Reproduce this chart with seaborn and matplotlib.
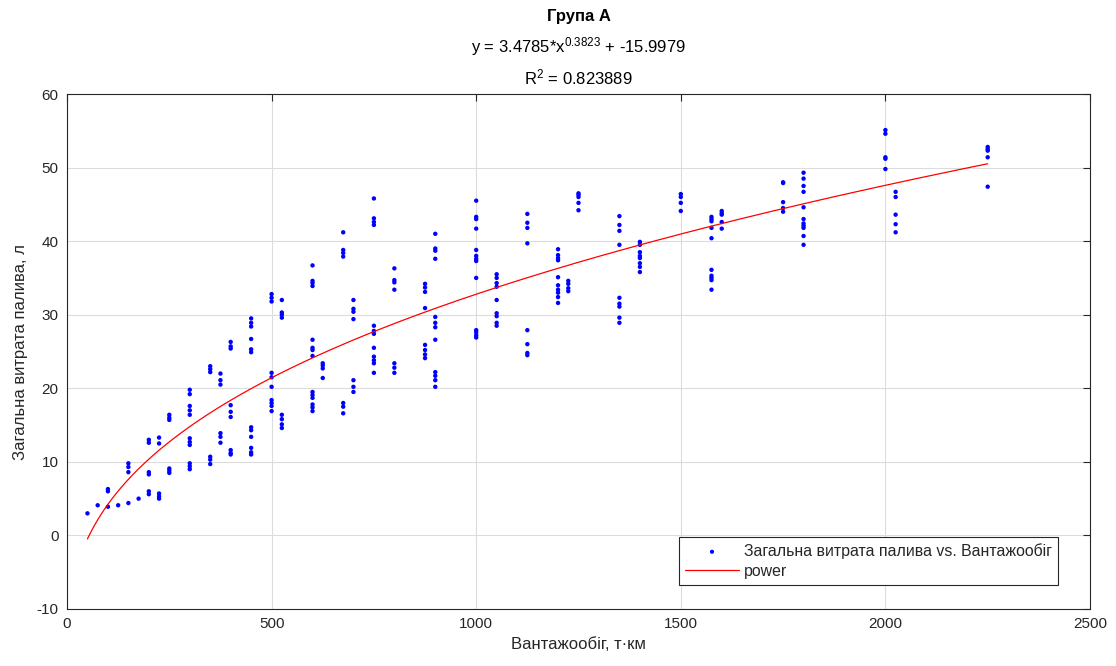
import numpy as np
import pandas as pd
import matplotlib
matplotlib.use("Agg")
import matplotlib.pyplot as plt
import seaborn as sns

# ---- data ----
turnover_levels = [50, 75, 100, 125, 150, 175, 200, 225, 250, 300, 350, 375, 400, 450, 500,
                   525, 600, 625, 675, 700, 750, 800, 875, 900, 1000, 1050, 1125, 1200, 1225,
                   1250, 1350, 1400, 1500, 1575, 1600, 1750, 1800, 2000, 2025, 2250]
fuel_by_level = [
    [3.0],
    [4.1],
    [6.3, 6.0, 3.9],
    [4.1],
    [9.8, 9.3, 8.6, 4.4],
    [5.0],
    [13.0, 12.6, 8.6, 8.3, 6.0, 5.6],
    [13.3, 12.5, 5.7, 5.3, 5.0],
    [16.4, 16.0, 15.7, 9.1, 8.8, 8.5],
    [19.8, 19.2, 17.6, 17.0, 16.4, 13.2, 12.7, 12.3, 9.8, 9.4, 9.0],
    [23.0, 22.6, 22.2, 10.7, 10.3, 9.7],
    [22.0, 21.1, 20.5, 13.9, 13.4, 12.6],
    [26.3, 25.7, 25.4, 17.7, 16.8, 16.1, 11.6, 11.2, 11.0],
    [29.5, 28.9, 28.4, 26.7, 25.3, 24.9, 14.7, 14.3, 13.4, 11.9, 11.3, 11.0],
    [32.8, 32.3, 31.8, 22.1, 21.5, 20.2, 18.4, 18.0, 17.6, 16.9],
    [32.0, 30.3, 30.0, 29.6, 16.4, 15.8, 15.1, 14.6],
    [36.7, 34.6, 34.3, 33.9, 26.6, 25.5, 25.2, 24.4, 19.5, 19.1, 18.7, 17.8, 17.4, 16.9],
    [23.4, 23.1, 22.7, 21.4],
    [41.2, 38.8, 38.4, 37.9, 18.0, 17.5, 16.6],
    [32.0, 30.8, 30.4, 29.4, 21.1, 20.2, 19.5],
    [45.8, 43.1, 42.6, 42.2, 28.5, 27.8, 27.4, 25.5, 24.3, 23.8, 23.4, 22.1],
    [36.3, 34.7, 34.4, 33.4, 23.4, 22.8, 22.1],
    [34.2, 33.7, 33.1, 30.9, 25.9, 25.2, 24.6, 24.1],
    [41.0, 39.0, 38.7, 37.6, 29.7, 28.9, 28.3, 26.6, 22.2, 21.7, 21.1, 20.2],
    [45.5, 43.3, 43.0, 41.7, 38.8, 38.0, 37.6, 37.3, 35.0, 27.9, 27.6, 27.2, 26.9],
    [35.5, 35.0, 34.3, 33.8, 32.0, 30.2, 29.8, 28.9, 28.5],
    [43.7, 42.5, 41.8, 39.7, 27.9, 26.0, 24.8, 24.5],
    [38.9, 38.1, 37.7, 37.4, 35.1, 34.0, 33.4, 33.0, 32.4, 31.6],
    [34.6, 34.2, 33.6, 33.2],
    [46.5, 46.3, 46.0, 45.2, 44.2],
    [43.4, 42.2, 41.4, 39.5, 32.3, 31.5, 31.1, 29.6, 28.9],
    [39.9, 39.5, 38.5, 38.0, 37.7, 37.0, 36.5, 35.8],
    [46.4, 46.0, 45.2, 44.1],
    [43.3, 43.0, 42.7, 41.8, 40.4, 36.1, 35.3, 35.0, 34.7, 33.4],
    [44.1, 43.8, 43.6, 42.6, 41.7],
    [48.0, 47.9, 45.3, 44.5, 44.0],
    [49.3, 48.5, 47.5, 46.7, 44.6, 43.0, 42.4, 42.1, 41.8, 40.7, 39.5],
    [55.1, 54.6, 51.4, 51.2, 49.8],
    [46.7, 46.0, 43.6, 42.3, 41.2],
    [52.8, 52.5, 52.3, 51.4, 47.4],
]
fit_a, fit_b, fit_c = 3.4785, 0.3823, -15.9979
r_squared = 0.823889
x_ticks = [0, 500, 1000, 1500, 2000, 2500]
y_ticks = [-10, 0, 10, 20, 30, 40, 50, 60]

title_text = "Група А"
x_label = "Вантажообіг, т·км"
y_label = "Загальна витрата палива, л"
scatter_label = "Загальна витрата палива vs. Вантажообіг"
fit_label = "power"

# ---- build frames ----
xs, ys = [], []
for lv, vals in zip(turnover_levels, fuel_by_level):
    xs.extend([lv] * len(vals))
    ys.extend(vals)
pts = pd.DataFrame({"x": xs, "y": ys})

fx = np.linspace(min(turnover_levels), max(turnover_levels), 400)
fit = pd.DataFrame({"x": fx, "y": fit_a * fx ** fit_b + fit_c})

# ---- style ----
sns.set_style("white")
plt.rcParams["font.family"] = ["Liberation Sans", "DejaVu Sans"]
plt.rcParams["mathtext.fontset"] = "custom"
plt.rcParams["mathtext.rm"] = "Liberation Sans"
plt.rcParams["mathtext.it"] = "Liberation Sans"
plt.rcParams["mathtext.default"] = "rm"
plt.rcParams["axes.unicode_minus"] = False

fig = plt.figure(figsize=(11.16, 6.66), dpi=100)
ax = fig.add_axes([67 / 1116, 1 - 609 / 666, (1090 - 67) / 1116, (609 - 94) / 666])

sns.scatterplot(data=pts, x="x", y="y", ax=ax, marker="o", s=10, color="#0000FF",
                edgecolor="none", linewidth=0, label=scatter_label, zorder=3)
sns.lineplot(data=fit, x="x", y="y", ax=ax, color="#FF0000", linewidth=0.9,
             label=fit_label, zorder=4)

ax.set_xlim(0, 2500)
ax.set_ylim(-10, 60)
ax.set_xticks(x_ticks)
ax.set_yticks(y_ticks)
ax.grid(True, color="#DCDCDC", linewidth=0.8)
ax.set_axisbelow(True)
for sp in ax.spines.values():
    sp.set_visible(True)
    sp.set_color("#262626")
    sp.set_linewidth(0.8)
ax.tick_params(direction="in", length=5, width=0.8, color="#262626",
               labelsize=11, labelcolor="#262626", top=True, right=True,
               labeltop=False, labelright=False, pad=6)
ax.set_xlabel(x_label, fontsize=12, color="#262626", labelpad=4)
ax.set_ylabel(y_label, fontsize=12, color="#262626", labelpad=6)

cx = 0.5 + 0.5 * (67 + 1090 - 1116) / 1116
fig.text(cx, 1 - 17 / 666, title_text, ha="center",
         va="center", fontsize=12, fontweight="bold", color="black")
fig.text(cx, 1 - 47 / 666,
         "y = %.4f*x$^{%.4f}$ + %.4f" % (fit_a, fit_b, fit_c), ha="center",
         va="center", fontsize=12, color="black")
fig.text(cx, 1 - 77 / 666,
         "R$^{2}$ = %.6f" % r_squared, ha="center", va="center", fontsize=12, color="black")

leg = ax.legend(loc="lower right", bbox_to_anchor=((1058 - 67) / 1023, (609 - 585) / 515),
                fontsize=11.4, frameon=True, fancybox=False, framealpha=1,
                edgecolor="#262626", borderpad=0.4, handlelength=3.4, handletextpad=0.3,
                labelspacing=0.3, borderaxespad=0)
leg.get_frame().set_linewidth(0.8)
for h in leg.legend_handles:
    try:
        h.set_sizes([9])
    except Exception:
        pass

fig.savefig("out.png", dpi=100)
